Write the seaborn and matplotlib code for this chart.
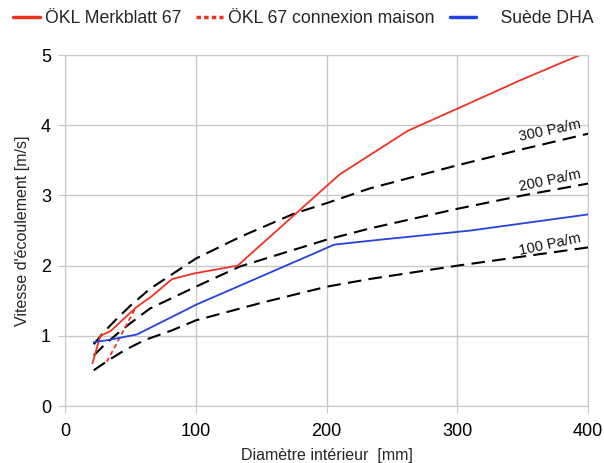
import numpy as np
import pandas as pd
import matplotlib
matplotlib.use('Agg')
import matplotlib.pyplot as plt
import seaborn as sns

sns.set_style('whitegrid')
plt.rcParams['font.family'] = ['Liberation Sans', 'DejaVu Sans']

# ÖKL Merkblatt 67
okl_d = [21, 27, 35, 54, 66, 82, 99, 132, 210, 262, 310, 348, 400]
okl_v = [0.61, 1.0, 1.07, 1.40, 1.56, 1.81, 1.89, 2.0, 3.3, 3.92, 4.32, 4.64, 5.05]
# ÖKL 67 connexion maison
house_d = [32, 54]
house_v = [0.63, 1.40]
# Suède DHA
dha_d = [22, 33, 55, 101, 206, 241, 310, 400]
dha_v = [0.91, 0.94, 1.02, 1.45, 2.3, 2.37, 2.5, 2.73]

# pressure-loss curves
pa100_d = [22, 33, 46, 61, 82, 100, 150, 200, 233, 300, 350, 400]
pa100_v = [0.51, 0.65, 0.80, 0.94, 1.08, 1.22, 1.47, 1.70, 1.81, 2.0, 2.13, 2.26]
pa200_d = [22, 30, 40, 50, 65, 100, 134, 200, 233, 300, 350, 400]
pa200_v = [0.72, 0.87, 1.03, 1.18, 1.39, 1.70, 1.99, 2.37, 2.53, 2.81, 3.0, 3.17]
pa300_d = [22, 30, 40, 50, 65, 100, 134, 175, 200, 233, 300, 350, 400]
pa300_v = [0.88, 1.06, 1.25, 1.43, 1.67, 2.10, 2.41, 2.74, 2.89, 3.10, 3.43, 3.66, 3.88]
pa_labels = ['100 Pa/m', '200 Pa/m', '300 Pa/m']

red = '#ee3322'
blue = '#2244dd'

fig = plt.figure(figsize=(6.04, 4.63), dpi=100)
ax = fig.add_axes([0.1076, 0.123, 0.866, 0.758])

for d, v, lab in [(pa100_d, pa100_v, pa_labels[0]),
                  (pa200_d, pa200_v, pa_labels[1]),
                  (pa300_d, pa300_v, pa_labels[2])]:
    sns.lineplot(x=d, y=v, ax=ax, color='black', lw=1.5, ls=(0, (6.5, 3.5)),
                 sort=False, legend=False)
    ax.text(371, v[-1] + 0.04, lab, rotation=12, ha='center', va='center',
            fontsize=10.5, color='#111111')

sns.lineplot(x=okl_d, y=okl_v, ax=ax, color=red, lw=1.3, sort=False,
             label='ÖKL Merkblatt 67')
sns.lineplot(x=house_d, y=house_v, ax=ax, color=red, lw=1.3, ls=(0, (2.5, 1.8)),
             sort=False, label='ÖKL 67 connexion maison')
sns.lineplot(x=dha_d, y=dha_v, ax=ax, color=blue, lw=1.3, sort=False,
             label='    Suède DHA')

ax.set_xlim(0, 400)
ax.set_ylim(0, 5)
ax.set_xticks([0, 100, 200, 300, 400])
ax.set_yticks([0, 1, 2, 3, 4, 5])
ax.grid(True, color='#c8c8c8', lw=1)
for s in ax.spines.values():
    s.set_color('#c8c8c8')
ax.tick_params(axis='both', labelsize=13, colors='#c8c8c8', labelcolor='black',
               length=5, direction='out', left=True, bottom=True)
ax.tick_params(axis='x', pad=7)
ax.tick_params(axis='y', pad=5)
ax.set_xlabel('Diamètre intérieur  [mm]', fontsize=11.5, labelpad=6)
ax.set_ylabel("Vitesse d'écoulement [m/s]", fontsize=11.5, labelpad=8)

leg = ax.legend(loc='center', bbox_to_anchor=(0.456, 1.105), ncol=3, frameon=False,
                fontsize=12.7, handlelength=1.5, handletextpad=0.3, columnspacing=0.85)
for h in leg.get_lines():
    h.set_linewidth(2.5)
leg.get_lines()[1].set_linestyle((0, (1.3, 0.9)))

fig.savefig('out.png', dpi=100)
